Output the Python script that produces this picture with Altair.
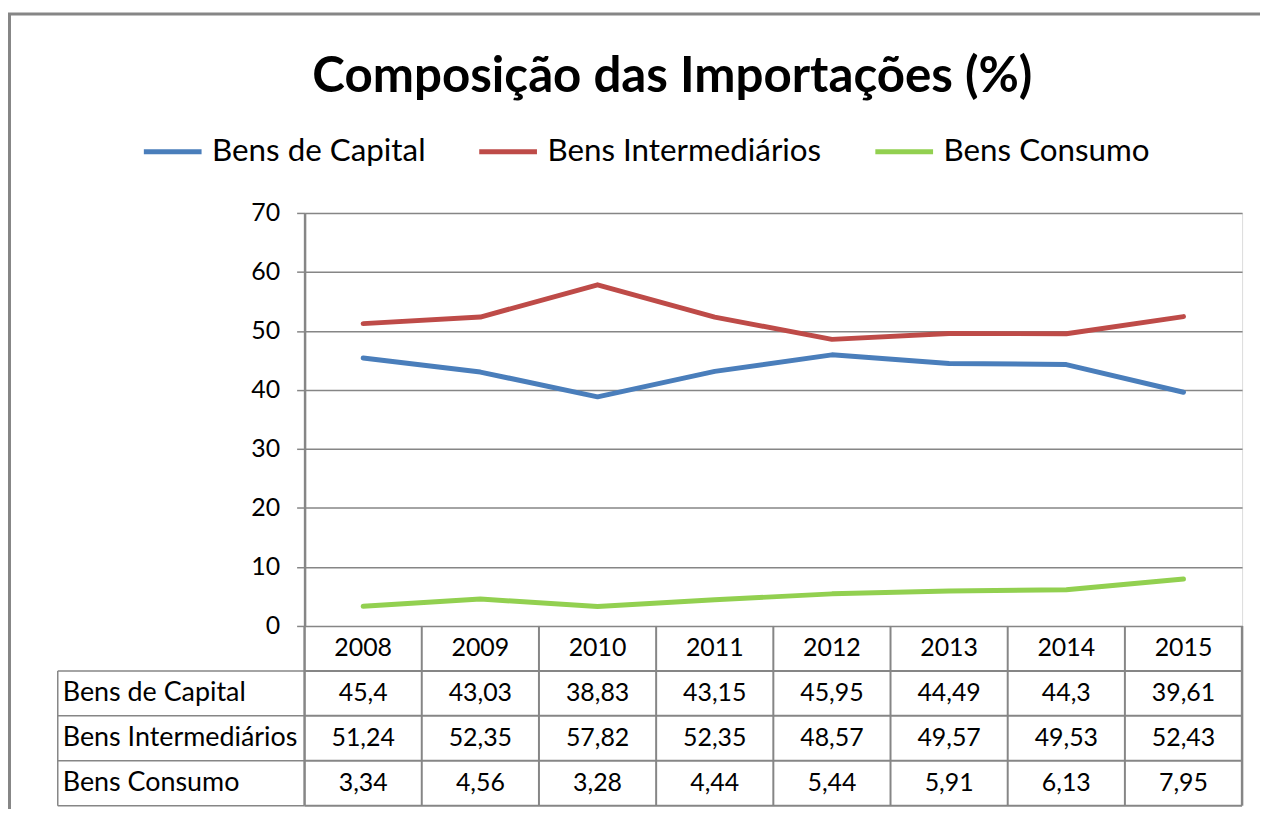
import altair as alt
import pandas as pd

# ---- data ----
years = [2008, 2009, 2010, 2011, 2012, 2013, 2014, 2015]
series_names = ["Bens de Capital", "Bens Intermediários", "Bens Consumo"]
bens_capital = [45.4, 43.03, 38.83, 43.15, 45.95, 44.49, 44.3, 39.61]
bens_intermediarios = [51.24, 52.35, 57.82, 52.35, 48.57, 49.57, 49.53, 52.43]
bens_consumo = [3.34, 4.56, 3.28, 4.44, 5.44, 5.91, 6.13, 7.95]
y_ticks = [0, 10, 20, 30, 40, 50, 60, 70]
title_text = "Composição das Importações (%)"

colors = ["#4a7ebb", "#be4b48", "#92d050"]
GRAY = "#868686"
FONT = "Lato"

rows = []
for r, (name, vals) in enumerate(zip(series_names, [bens_capital, bens_intermediarios, bens_consumo])):
    for y, v in zip(years, vals):
        rows.append({"year": y, "series": name, "value": v, "row": r + 1})
df = pd.DataFrame(rows)
df_years = pd.DataFrame({"year": years})
df_series = pd.DataFrame({"series": series_names, "row": [1, 2, 3]})
df_bounds = pd.DataFrame({"k": [0, 1, 2, 3, 4]})
one = pd.DataFrame({"a": [0]})

W, H = 942, 415
LABEL_COL = -248  # left edge of the label column, relative to plot
ROW_PX = 45.15
ROW_U = ROW_PX / (H / 70.0)  # table row height expressed in y-scale units

xs = alt.Scale(domain=[years[0] - 0.5, years[-1] + 0.5], nice=False, zero=False)
ys = alt.Scale(domain=[0, 70], nice=False, zero=True)

lines = alt.Chart(df).mark_line(strokeWidth=5, strokeCap="round", strokeJoin="round").encode(
    x=alt.X("year:Q", scale=xs, axis=None),
    y=alt.Y("value:Q", scale=ys,
            axis=alt.Axis(values=y_ticks, title=None, grid=True, gridColor=GRAY, gridWidth=1.5,
                          domain=True, domainColor=GRAY, domainWidth=2.5,
                          ticks=True, tickColor=GRAY, tickWidth=1.5, tickSize=8,
                          labelFont=FONT, labelFontSize=25, labelColor="#000",
                          labelPadding=17)),
    color=alt.Color("series:N", scale=alt.Scale(domain=series_names, range=colors),
                    sort=series_names,
                    legend=alt.Legend(title=None, orient="none", direction="horizontal",
                                      legendX=-164, legendY=-93,
                                      symbolType="stroke", symbolSize=3364, symbolStrokeWidth=5,
                                      labelFont=FONT, labelFontSize=31.5, labelColor="#000",
                                      labelLimit=0, labelOffset=8, columnPadding=43)),
    order=alt.Order("row:Q"),
)

ky = "-datum.k * %f" % ROW_U

# table grid: horizontal row lines across the year columns
h_rules = alt.Chart(df_bounds).transform_filter("datum.k > 0").transform_calculate(
    yy=ky).mark_rule(color=GRAY, strokeWidth=2).encode(
    x=alt.datum(years[0] - 0.5), x2=alt.datum(years[-1] + 0.5),
    y=alt.Y("yy:Q"),
)

# horizontal lines of the label column
lab_rules = alt.Chart(df_bounds).transform_filter("datum.k > 0").transform_calculate(
    yy=ky).mark_rule(color=GRAY, strokeWidth=1.5).encode(
    x=alt.value(LABEL_COL), x2=alt.value(0),
    y=alt.Y("yy:Q"),
)

lab_left = alt.Chart(one).mark_rule(color=GRAY, strokeWidth=1.5).encode(
    x=alt.value(LABEL_COL),
    y=alt.datum(-1 * ROW_U), y2=alt.datum(-4 * ROW_U),
)

v_rules = alt.Chart(df_years).transform_calculate(b="datum.year - 0.5").transform_filter(
    "datum.year > %d" % years[0]).mark_rule(color=GRAY, strokeWidth=2).encode(
    x=alt.X("b:Q"),
    y=alt.datum(0), y2=alt.datum(-4 * ROW_U),
)

edge_rules = alt.Chart(pd.DataFrame({"b": [years[0] - 0.5, years[-1] + 0.5]})).mark_rule(
    color=GRAY, strokeWidth=2.5).encode(
    x=alt.X("b:Q"),
    y=alt.datum(0), y2=alt.datum(-4 * ROW_U),
)

year_text = alt.Chart(df_years).transform_calculate(t="toString(datum.year)").mark_text(
    font=FONT, fontSize=25, color="#000", baseline="middle").encode(
    x=alt.X("year:Q"),
    y=alt.datum(-0.5 * ROW_U),
    text="t:N",
)

val_text = alt.Chart(df).transform_calculate(
    t="replace(toString(datum.value), '.', ',')",
    yy="-(datum.row + 0.5) * %f" % ROW_U).mark_text(
    font=FONT, fontSize=25, color="#000", baseline="middle").encode(
    x=alt.X("year:Q"),
    y=alt.Y("yy:Q"),
    text="t:N",
)

row_labels = alt.Chart(df_series).transform_calculate(
    yy="-(datum.row + 0.5) * %f" % ROW_U).mark_text(
    font=FONT, fontSize=27, color="#000", baseline="middle", align="left").encode(
    x=alt.value(LABEL_COL + 5),
    y=alt.Y("yy:Q"),
    text="series:N",
)

title = alt.Chart(one).mark_text(
    text=title_text, font=FONT, fontSize=49.5, fontWeight="bold", color="#000",
    align="center", baseline="alphabetic").encode(
    x=alt.value(369.5), y=alt.value(-122),
)

border_left = alt.Chart(one).mark_rule(color=GRAY, strokeWidth=3).encode(
    x=alt.value(-296.5), y=alt.value(-201), y2=alt.value(600))
border_top = alt.Chart(one).mark_rule(color=GRAY, strokeWidth=3).encode(
    x=alt.value(-298), x2=alt.value(960), y=alt.value(-199.8))

chart = alt.layer(
    lines, border_left, border_top, title,
    h_rules, lab_rules, lab_left, v_rules, edge_rules,
    year_text, val_text, row_labels,
).properties(
    width=W, height=H,
    autosize=alt.AutoSizeParams(type="none"),
    padding={"left": 298, "top": 204, "right": 18, "bottom": 182},
).configure_view(stroke=None).configure(font=FONT)

chart.save("out.html", embed_options={"renderer": "svg", "actions": False})
